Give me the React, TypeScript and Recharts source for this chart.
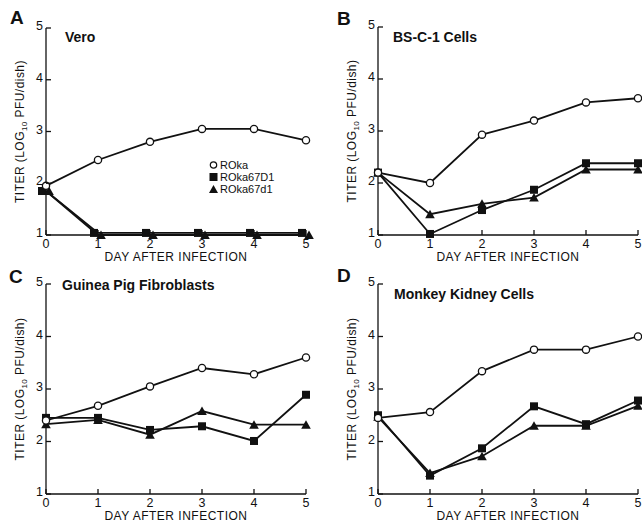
import React from 'react';
import { LineChart, Line, XAxis, YAxis, Legend } from 'recharts';

const days = [0, 1, 2, 3, 4, 5];
const yTicks = [1, 2, 3, 4, 5];
const seriesNames = ['ROka', 'ROka67D1', 'ROka67d1'];
const xAxisTitle = 'DAY AFTER INFECTION';

// Panel A: Vero
const veroROka = [1.95, 2.45, 2.8, 3.05, 3.05, 2.83];
const veroD1 = [1.85, 1.04, 1.04, 1.04, 1.04, 1.04];
const veroD1s = [1.85, 1.0, 1.0, 1.0, 1.0, 1.0];

// Panel B: BS-C-1 Cells
const bscROka = [2.2, 2.0, 2.93, 3.2, 3.55, 3.63];
const bscD1 = [2.2, 1.02, 1.48, 1.87, 2.38, 2.38];
const bscD1s = [2.2, 1.4, 1.6, 1.72, 2.26, 2.26];

// Panel C: Guinea Pig Fibroblasts
const gpfROka = [2.4, 2.68, 3.05, 3.4, 3.28, 3.6];
const gpfD1 = [2.45, 2.45, 2.22, 2.29, 2.01, 2.89];
const gpfD1s = [2.33, 2.41, 2.13, 2.58, 2.32, 2.32];

// Panel D: Monkey Kidney Cells
const mkcROka = [2.45, 2.56, 3.34, 3.75, 3.75, 4.0];
const mkcD1 = [2.5, 1.35, 1.87, 2.67, 2.33, 2.78];
const mkcD1s = [2.47, 1.4, 1.72, 2.3, 2.3, 2.68];

const FONT = '"Liberation Sans", Arial, Helvetica, sans-serif';
const INK = '#111';

const build = (a: number[], b: number[], c: number[]) =>
  days.map((d, i) => ({ day: d, roka: a[i], d1: b[i], d1s: c[i] }));

const CircleDot = (props: any) => {
  const { cx, cy } = props;
  if (cx == null || cy == null) return null;
  return <circle cx={cx} cy={cy} r={3.6} fill="#fff" stroke={INK} strokeWidth={1.3} />;
};

const makeSquare = (dx: number) => (props: any) => {
  const { cx, cy } = props;
  if (cx == null || cy == null) return null;
  return <rect x={cx + dx - 4} y={cy - 4} width={8} height={8} fill={INK} />;
};

const makeTriangle = (dx: number) => (props: any) => {
  const { cx, cy } = props;
  if (cx == null || cy == null) return null;
  const x = cx + dx;
  return <polygon points={`${x - 4.8},${cy + 4} ${x + 4.8},${cy + 4} ${x},${cy - 4.5}`} fill={INK} />;
};

const XTick = (props: any) => {
  const { x, y, payload } = props;
  return (
    <g>
      <line x1={x} y1={y} x2={x} y2={y - 5} stroke={INK} strokeWidth={1.3} />
      <text x={x} y={y + 13} textAnchor="middle" fontSize={12.5} fontFamily={FONT} fill={INK}>
        {payload.value}
      </text>
    </g>
  );
};

const YTick = (props: any) => {
  const { x, y, payload } = props;
  return (
    <g>
      <line x1={x} y1={y} x2={x + 5} y2={y} stroke={INK} strokeWidth={1.3} />
      <text x={x - 3} y={y + 2} textAnchor="end" fontSize={12.5} fontFamily={FONT} fill={INK}>
        {payload.value}
      </text>
    </g>
  );
};

const YTitle = (props: any) => {
  const { viewBox } = props;
  const cx = viewBox.x + viewBox.width - 22;
  const cy = viewBox.y + viewBox.height / 2;
  return (
    <text
      x={cx}
      y={cy}
      transform={`rotate(-90, ${cx}, ${cy})`}
      textAnchor="middle"
      fontSize={12}
      letterSpacing={0.45}
      fontFamily={FONT}
      fill={INK}
    >
      TITER (LOG
      <tspan fontSize={8} dy={3}>10</tspan>
      <tspan dy={-3}> PFU/dish)</tspan>
    </text>
  );
};

const XTitle = (props: any) => {
  const { viewBox } = props;
  const cx = viewBox.x + viewBox.width / 2;
  const cy = viewBox.y + 26;
  return (
    <text x={cx} y={cy} textAnchor="middle" fontSize={12} letterSpacing={0.5} fontFamily={FONT} fill={INK}>
      {xAxisTitle}
    </text>
  );
};

const LegendBox = () => (
  <div style={{ fontFamily: FONT, fontSize: 11, lineHeight: '12px', color: INK }}>
    <div style={{ display: 'flex', alignItems: 'center' }}>
      <svg width={9} height={10} style={{ marginRight: 2 }}>
        <circle cx={4.5} cy={5} r={3.2} fill="#fff" stroke={INK} strokeWidth={1.2} />
      </svg>
      {seriesNames[0]}
    </div>
    <div style={{ display: 'flex', alignItems: 'center' }}>
      <svg width={9} height={10} style={{ marginRight: 2 }}>
        <rect x={0.5} y={1} width={8} height={8} fill={INK} />
      </svg>
      {seriesNames[1]}
    </div>
    <div style={{ display: 'flex', alignItems: 'center' }}>
      <svg width={9} height={10} style={{ marginRight: 2 }}>
        <polygon points="0,9 9,9 4.5,1" fill={INK} />
      </svg>
      {seriesNames[2]}
    </div>
  </div>
);

type PanelProps = {
  left: number;
  top: number;
  height: number;
  margin: { top: number; right: number; bottom: number; left: number };
  data: any[];
  letter: string;
  letterPos: [number, number];
  title: string;
  titlePos: [number, number];
  legend?: boolean;
  offset?: boolean;
};

const Panel = ({ left, top, height, margin, data, letter, letterPos, title, titlePos, legend, offset }: PanelProps) => (
  <div style={{ position: 'absolute', left, top, width: 321, height }}>
    <LineChart width={321} height={height} data={data} margin={margin}>
      <XAxis
        dataKey="day"
        type="number"
        domain={[0, 5]}
        ticks={days}
        tickSize={0}
        tickMargin={0}
        tickLine={false}
        height={25}
        axisLine={{ stroke: INK, strokeWidth: 1.3 }}
        tick={<XTick />}
        interval={0}
        label={<XTitle />}
      />
      <YAxis
        type="number"
        domain={[1, 5]}
        ticks={yTicks}
        tickSize={0}
        tickMargin={0}
        tickLine={false}
        width={20}
        axisLine={{ stroke: INK, strokeWidth: 1.3 }}
        tick={<YTick />}
        interval={0}
        label={<YTitle />}
      />
      {legend && (
        <Legend
          layout="vertical"
          align="center"
          verticalAlign="middle"
          content={<LegendBox />}
          wrapperStyle={{ left: 209, top: 159, width: 80 }}
        />
      )}
      <Line
        dataKey="d1"
        name={seriesNames[1]}
        stroke={INK}
        strokeWidth={1.8}
        dot={makeSquare(offset ? -4 : 0)}
        isAnimationActive={false}
        legendType="square"
      />
      <Line
        dataKey="d1s"
        name={seriesNames[2]}
        stroke={INK}
        strokeWidth={1.8}
        dot={makeTriangle(offset ? 3 : 0)}
        isAnimationActive={false}
        legendType="triangle"
      />
      <Line
        dataKey="roka"
        name={seriesNames[0]}
        stroke={INK}
        strokeWidth={1.8}
        dot={CircleDot}
        isAnimationActive={false}
        legendType="circle"
      />
    </LineChart>
    <div
      style={{
        position: 'absolute',
        left: letterPos[0],
        top: letterPos[1],
        fontFamily: FONT,
        fontWeight: 'bold',
        fontSize: 19,
        lineHeight: '19px',
        color: INK,
      }}
    >
      {letter}
    </div>
    <div
      style={{
        position: 'absolute',
        left: titlePos[0],
        top: titlePos[1],
        fontFamily: FONT,
        fontWeight: 'bold',
        fontSize: 14,
        lineHeight: '14px',
        color: INK,
        whiteSpace: 'nowrap',
      }}
    >
      {title}
    </div>
  </div>
);

export default function App() {
  return (
    <div style={{ position: 'absolute', left: 0, top: 0, width: 642, height: 522, background: '#fff', overflow: 'hidden' }}>
      <Panel
        left={0}
        top={261}
        height={261}
        margin={{ top: 23, right: 15, bottom: 3, left: 26 }}
        data={build(gpfROka, gpfD1, gpfD1s)}
        letter="C"
        letterPos={[9, 6]}
        title="Guinea Pig Fibroblasts"
        titlePos={[62, 17]}
      />
      <Panel
        left={321}
        top={261}
        height={261}
        margin={{ top: 23, right: 4, bottom: 3, left: 37 }}
        data={build(mkcROka, mkcD1, mkcD1s)}
        letter="D"
        letterPos={[16, 5]}
        title="Monkey Kidney Cells"
        titlePos={[73, 26]}
      />
      <Panel
        left={0}
        top={0}
        height={270}
        margin={{ top: 28, right: 15, bottom: 10, left: 26 }}
        data={build(veroROka, veroD1, veroD1s)}
        letter="A"
        letterPos={[10, 8]}
        title="Vero"
        titlePos={[65, 30]}
        legend
        offset
      />
      <Panel
        left={321}
        top={0}
        height={270}
        margin={{ top: 27, right: 4, bottom: 10, left: 37 }}
        data={build(bscROka, bscD1, bscD1s)}
        letter="B"
        letterPos={[16, 9]}
        title="BS-C-1 Cells"
        titlePos={[72, 30]}
      />
    </div>
  );
}
